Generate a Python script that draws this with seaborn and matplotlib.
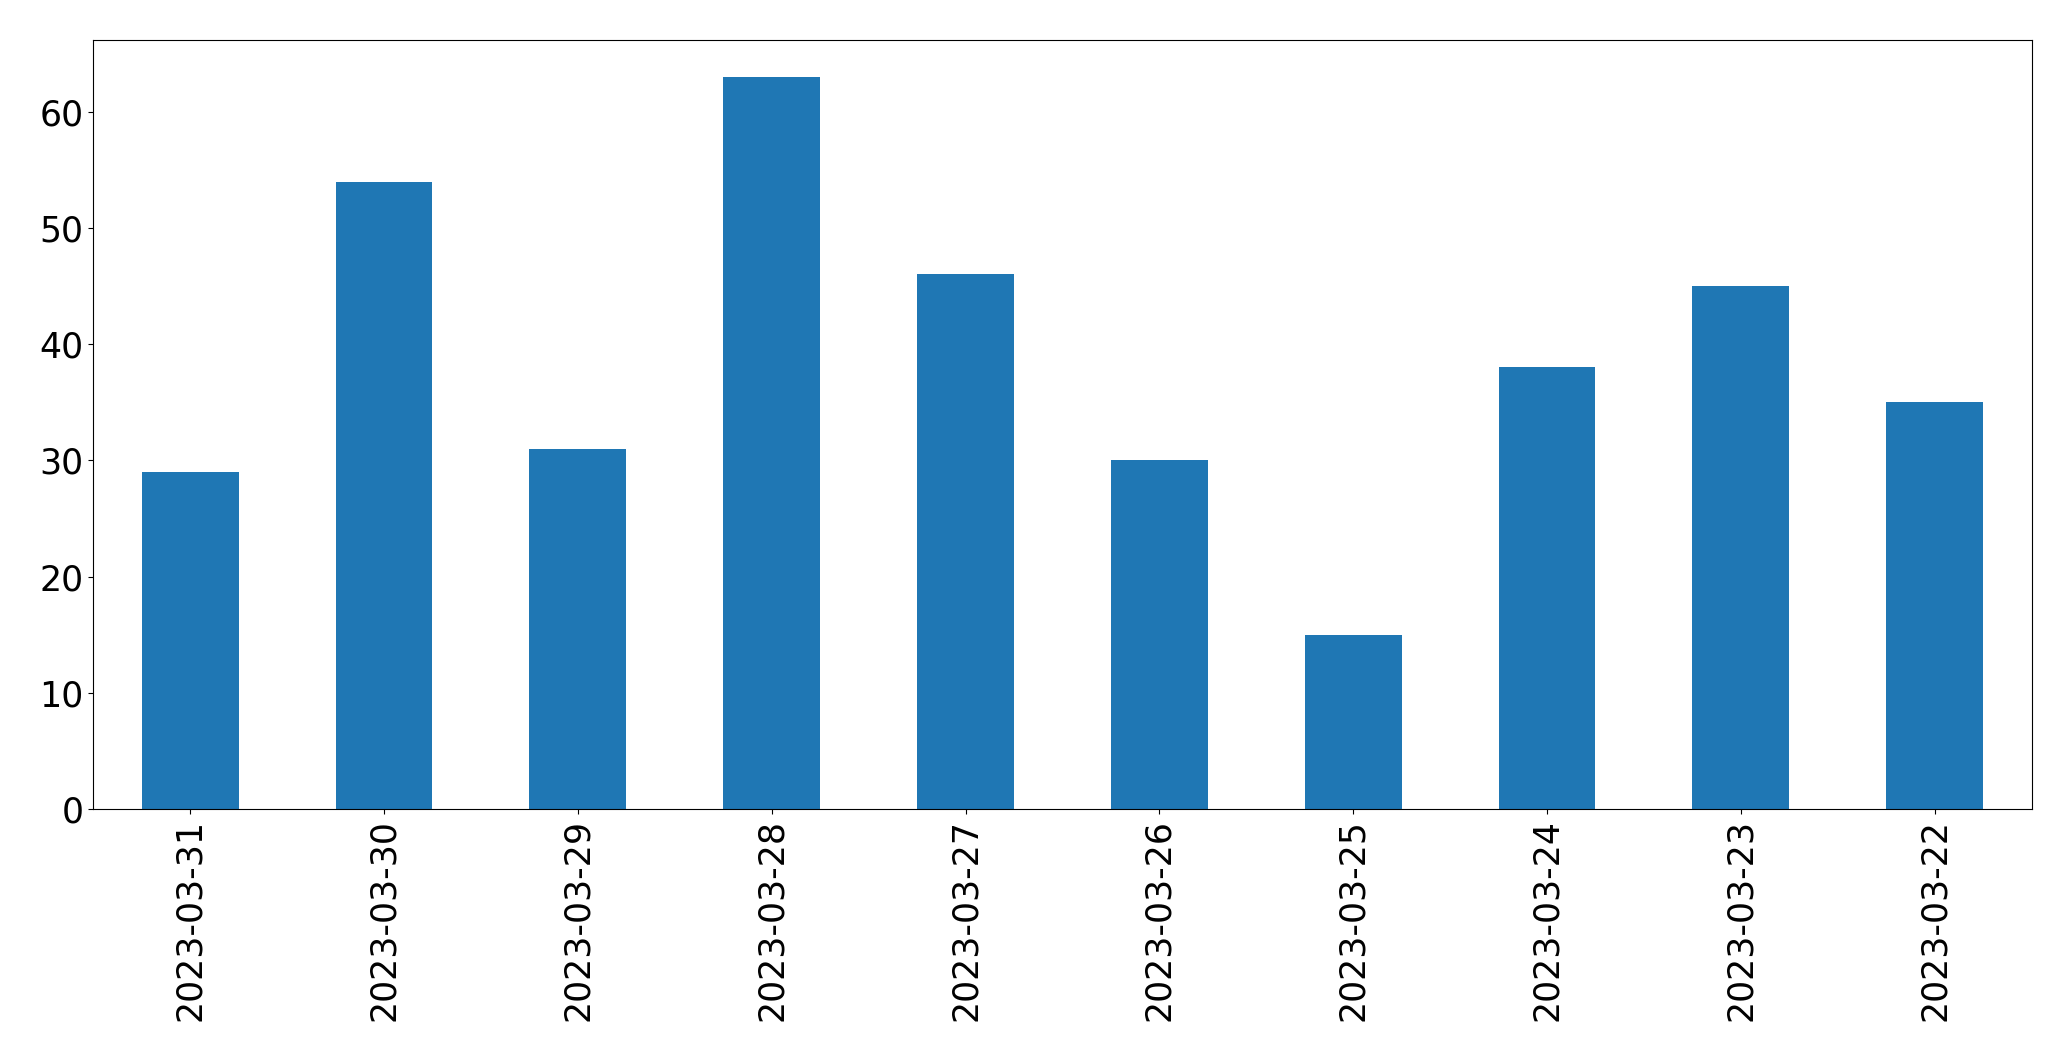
import seaborn as sns
import matplotlib.pyplot as plt
import pandas as pd

dates = ['2023-03-31', '2023-03-30', '2023-03-29', '2023-03-28', '2023-03-27',
         '2023-03-26', '2023-03-25', '2023-03-24', '2023-03-23', '2023-03-22']
counts = [29, 54, 31, 63, 46, 30, 15, 38, 45, 35]

df = pd.DataFrame({'date': dates, 'count': counts})

fig, ax = plt.subplots(figsize=(20.71, 10.61), dpi=100)
sns.barplot(data=df, x='date', y='count', color='#1f77b4', saturation=1,
            width=0.5, linewidth=0, ax=ax)

ax.set_xlim(-0.5, len(dates) - 0.5)
ax.set_ylim(0, max(counts) * 1.05)
ax.set_xlabel('')
ax.set_ylabel('')
ax.tick_params(axis='x', labelrotation=90, labelsize=25)
ax.tick_params(axis='y', labelsize=25)

plt.subplots_adjust(left=0.045, right=0.981, top=0.962, bottom=0.2375)
plt.savefig('out.png', dpi=100)
